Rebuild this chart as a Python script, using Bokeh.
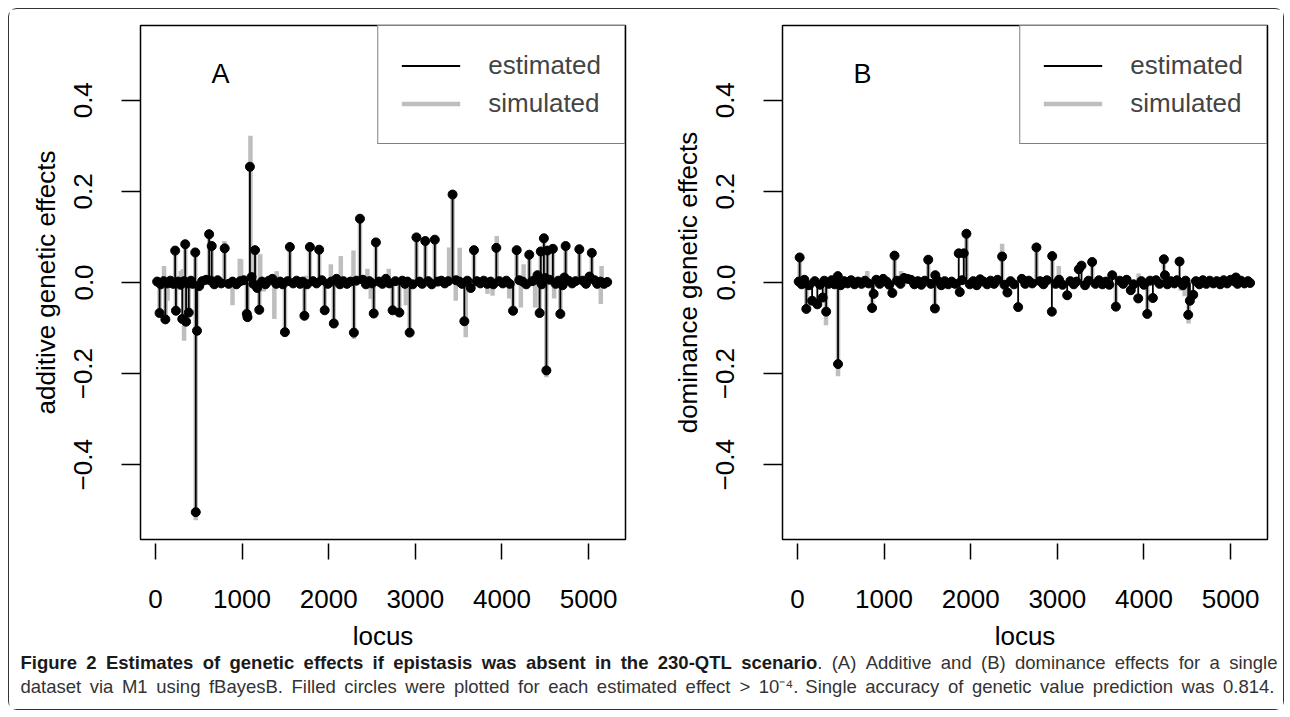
from bokeh.plotting import figure
from bokeh.models import ColumnDataSource, Range1d, FixedTicker, Legend, LegendItem, Label
from bokeh.layouts import column, row
from bokeh.embed import file_html
from bokeh.resources import INLINE
from bokeh.core.properties import value

# ---------------- data ----------------
# Panel A: additive effects, estimated (filled circles) and simulated (grey)
A_est_locus = [20, 48, 62, 95, 115, 140, 172, 205, 228, 237, 262, 290, 310, 330, 344, 354, 368, 385,
               410, 430, 460, 466, 480, 505, 540, 585, 620, 640, 650, 680, 718, 760, 800, 845, 890,
               935, 980, 1020, 1055, 1063, 1091, 1110, 1130, 1150, 1175, 1199, 1230, 1270, 1310,
               1350, 1395, 1440, 1470, 1495, 1525, 1552, 1590, 1630, 1670, 1700, 1720, 1750, 1783,
               1820, 1860, 1890, 1920, 1954, 1990, 2030, 2059, 2090, 2130, 2170, 2210, 2250, 2291,
               2320, 2361, 2395, 2430, 2470, 2500, 2520, 2545, 2580, 2620, 2660, 2700, 2738, 2770,
               2816, 2850, 2880, 2910, 2935, 2970, 3013, 3050, 3080, 3115, 3150, 3190, 3225, 3260,
               3300, 3340, 3380, 3430, 3470, 3510, 3540, 3566, 3600, 3640, 3677, 3710, 3750, 3790,
               3830, 3870, 3900, 3935, 3970, 4010, 4050, 4090, 4128, 4170, 4200, 4240, 4280, 4315,
               4350, 4390, 4410, 4435, 4448, 4460, 4484, 4500, 4513, 4525, 4550, 4588, 4620, 4650,
               4674, 4700, 4720, 4735, 4770, 4810, 4850, 4893, 4930, 4970, 5010, 5037, 5070, 5100,
               5140, 5180, 5215]
A_est_value = [0.002, -0.067, -0.004, 0.003, -0.081, -0.002, 0.004, -0.003, 0.070, -0.062, 0.002,
               -0.005, -0.080, 0.003, 0.084, -0.086, -0.002, -0.066, 0.004, -0.003, 0.066, -0.504,
               -0.106, -0.008, 0.003, 0.006, 0.106, 0.004, 0.080, -0.004, 0.005, -0.002, 0.075,
               -0.003, 0.002, -0.004, 0.003, 0.005, -0.069, -0.076, 0.254, 0.012, -0.003, 0.071,
               -0.012, -0.060, 0.002, -0.004, 0.004, 0.008, -0.003, 0.002, -0.004, -0.109, 0.003,
               0.078, -0.002, 0.004, -0.003, 0.002, -0.073, -0.004, 0.078, 0.003, -0.002, 0.072,
               0.005, -0.061, -0.003, 0.002, -0.090, 0.008, -0.004, 0.003, -0.003, 0.002, -0.110,
               0.004, 0.140, 0.006, -0.004, 0.003, -0.002, -0.068, 0.088, 0.002, -0.003, 0.008,
               -0.002, -0.061, 0.003, -0.066, 0.004, -0.003, 0.002, -0.110, -0.004, 0.099, 0.002,
               -0.003, 0.091, 0.003, -0.004, 0.094, 0.002, 0.004, -0.002, 0.003, 0.193, 0.005,
               0.002, -0.003, -0.085, 0.004, -0.012, 0.071, 0.003, -0.002, 0.004, -0.003, 0.002,
               -0.004, 0.076, 0.003, -0.002, 0.004, -0.003, -0.062, 0.071, 0.005, 0.002, -0.004,
               0.061, 0.003, 0.006, 0.016, -0.067, 0.068, -0.004, 0.097, 0.010, -0.193, 0.070,
               0.006, 0.074, -0.003, 0.004, -0.069, -0.006, 0.011, 0.080, 0.004, -0.002, 0.003,
               0.073, 0.004, -0.003, 0.013, 0.065, 0.005, -0.003, 0.002, -0.003, 0.001]
A_sim_locus = [48, 100, 118, 140, 228, 237, 293, 316, 331, 344, 354, 385, 460, 466, 480, 620, 650,
               797, 890, 974, 989, 1055, 1063, 1097, 1150, 1199, 1210, 1248, 1373, 1400, 1495, 1552,
               1720, 1739, 1783, 1890, 1954, 2025, 2059, 2140, 2286, 2291, 2361, 2447, 2486, 2520,
               2545, 2693, 2738, 2816, 2891, 2935, 3013, 3115, 3225, 3390, 3430, 3467, 3512, 3582,
               3677, 3833, 3891, 3940, 4083, 4128, 4170, 4218, 4250, 4315, 4383, 4435, 4448, 4484,
               4513, 4525, 4588, 4602, 4674, 4735, 4893, 5037, 5141, 5150]
A_sim_value = [-0.070, 0.036, -0.084, -0.040, 0.072, -0.065, 0.025, 0.029, -0.128, 0.086, -0.088,
               -0.070, 0.068, -0.522, -0.108, 0.108, 0.082, 0.091, -0.050, 0.052, 0.051, -0.072,
               -0.078, 0.322, 0.073, -0.062, 0.062, -0.020, -0.080, 0.025, -0.112, 0.080, -0.075,
               0.015, 0.080, 0.074, -0.063, 0.040, -0.092, 0.058, 0.070, -0.124, 0.142, 0.030,
               -0.036, -0.070, 0.090, 0.030, -0.063, -0.068, -0.050, -0.112, 0.100, 0.093, 0.096,
               0.077, 0.195, -0.040, 0.076, -0.120, 0.073, -0.025, -0.029, 0.102, -0.035, -0.064,
               0.073, -0.055, 0.040, 0.063, -0.055, -0.069, 0.070, 0.099, -0.208, 0.072, 0.076,
               -0.035, -0.071, 0.082, 0.075, 0.067, -0.047, 0.036]

# Panel B: dominance effects
B_est_locus = [15, 26, 50, 80, 103, 135, 170, 200, 230, 260, 292, 310, 332, 360, 395, 430, 466, 469,
               500, 540, 580, 620, 660, 700, 740, 780, 820, 862, 880, 910, 950, 990, 1030, 1060,
               1096, 1121, 1150, 1190, 1230, 1270, 1310, 1350, 1390, 1430, 1470, 1510, 1540, 1587,
               1592, 1620, 1660, 1700, 1740, 1780, 1820, 1862, 1874, 1900, 1920, 1951, 1990, 2030,
               2070, 2110, 2150, 2190, 2230, 2270, 2310, 2363, 2390, 2424, 2460, 2500, 2548, 2590,
               2630, 2670, 2710, 2759, 2800, 2840, 2880, 2937, 2941, 2980, 3020, 3060, 3114, 3150,
               3190, 3220, 3248, 3279, 3320, 3360, 3402, 3440, 3480, 3520, 3560, 3600, 3634, 3676,
               3720, 3760, 3800, 3848, 3880, 3934, 3970, 4000, 4038, 4070, 4103, 4140, 4180, 4230,
               4242, 4270, 4310, 4350, 4380, 4411, 4450, 4480, 4511, 4530, 4569, 4600, 4640, 4680,
               4720, 4760, 4800, 4840, 4880, 4920, 4960, 5000, 5040, 5061, 5080, 5120, 5160, 5200,
               5225]
B_est_value = [0.002, 0.055, -0.004, 0.006, -0.058, -0.006, -0.040, 0.003, -0.048, -0.005, -0.033,
               0.004, -0.064, -0.003, 0.005, -0.004, 0.014, -0.179, -0.006, 0.003, -0.002, 0.005,
               -0.004, 0.002, -0.003, 0.004, -0.002, -0.056, -0.025, 0.006, -0.003, 0.008, 0.002,
               -0.005, -0.023, 0.059, 0.004, -0.003, 0.010, 0.008, 0.006, -0.004, 0.003, -0.005,
               0.004, 0.050, -0.003, -0.057, 0.016, 0.004, -0.006, 0.003, -0.004, 0.002, -0.003,
               0.064, -0.021, 0.005, 0.064, 0.107, -0.004, 0.003, -0.006, 0.007, 0.002, -0.004,
               0.004, -0.003, 0.006, 0.057, -0.005, -0.022, 0.003, -0.004, -0.054, 0.008, -0.003,
               0.004, -0.002, 0.077, 0.003, -0.004, 0.005, -0.064, 0.058, -0.003, 0.006, -0.005,
               -0.028, 0.003, -0.004, 0.002, 0.029, 0.037, -0.006, 0.004, 0.045, -0.003, 0.005,
               -0.004, 0.002, -0.005, 0.016, -0.053, 0.004, -0.003, 0.006, -0.017, -0.004, -0.035,
               0.003, -0.005, -0.069, 0.004, -0.034, 0.005, -0.003, 0.051, 0.016, -0.004, 0.003,
               -0.002, 0.005, 0.046, -0.006, 0.004, -0.071, -0.040, -0.027, 0.003, -0.004, 0.005,
               -0.003, 0.004, -0.002, 0.003, -0.004, 0.005, -0.002, 0.006, 0.003, 0.011, -0.003,
               0.004, -0.002, 0.003, -0.001]
B_sim_locus = [26, 103, 330, 469, 807, 862, 1121, 1196, 1510, 1587, 1951, 2363, 2759, 2941, 3017,
               3402, 3676, 3938, 4038, 4230, 4425, 4470, 4515]
B_sim_value = [0.058, -0.060, -0.094, -0.206, 0.025, -0.058, 0.061, 0.025, 0.052, -0.059, 0.109,
               0.085, 0.079, 0.060, 0.036, 0.046, -0.055, 0.020, -0.071, 0.053, -0.018, -0.030,
               -0.090]

x_ticks = [0, 1000, 2000, 3000, 4000, 5000]
y_ticks = [-0.4, -0.2, 0.0, 0.2, 0.4]
y_tick_labels = ["\u22120.4", "\u22120.2", "0.0", "0.2", "0.4"]

caption_bold = "Figure 2 Estimates of genetic effects if epistasis was absent in the 230-QTL scenario"
caption_rest1 = "(A) Additive and (B) dominance effects for a single"
caption_line2 = ("dataset via M1 using fBayesB. Filled circles were plotted for each estimated effect "
                 "> 10\u207b\u2074. Single accuracy of genetic value prediction was 0.814.")

FONT = "Liberation Sans"
GREY = "#bebebe"

# Liberation Sans (Arial-metric) advance widths, per 1000 em, for justified caption layout
REG_W = dict(zip("abcdefghijklmnopqrstuvwxyz", [556, 556, 500, 556, 556, 278, 556, 556, 222, 222, 500,
                                                 222, 833, 556, 556, 556, 556, 333, 500, 278, 556, 500,
                                                 722, 500, 500, 500]))
REG_W.update({"A": 667, "B": 667, "F": 611, "M": 833, "S": 667, "(": 333, ")": 333, ".": 278,
              ">": 584, "-": 333, "\u207b": 333, "\u2074": 333})
REG_W.update({d: 556 for d in "0123456789"})
BOLD_W = dict(zip("abcdefghijklmnopqrstuvwxyz", [556, 611, 556, 611, 556, 333, 611, 611, 278, 278, 556,
                                                  278, 889, 611, 611, 611, 611, 389, 556, 333, 611, 556,
                                                  778, 556, 556, 500]))
BOLD_W.update({"E": 667, "F": 611, "Q": 778, "T": 611, "L": 611, "-": 333, ".": 278})
BOLD_W.update({d: 556 for d in "0123456789"})


def word_width(w, table, size):
    return sum(table.get(c, 556) for c in w) * size / 1000.0


def make_panel(letter, ylabel, est_locus, est_value, sim_locus, sim_value, width, right):
    p = figure(width=width, height=644, x_range=Range1d(-172, 5426), y_range=Range1d(-0.564, 0.564),
               output_backend="svg", toolbar_location=None,
               min_border_left=131, min_border_right=right, min_border_top=16, min_border_bottom=114)
    p.grid.visible = False
    p.outline_line_color = "black"
    p.outline_line_width = 1.5
    p.background_fill_color = "white"
    p.border_fill_color = "white"

    sim = ColumnDataSource(dict(x=sim_locus, v=sim_value))
    est = ColumnDataSource(dict(x=est_locus, v=est_value))
    r_sim = p.segment(x0="x", y0=0, x1="x", y1="v", source=sim, line_color=GREY, line_width=4.5)
    r_est = p.segment(x0="x", y0=0, x1="x", y1="v", source=est, line_color="black", line_width=1.8)
    p.scatter(x="x", y="v", source=est, marker="circle", size=9, fill_color="black", line_color="black")

    for ax in (p.xaxis[0], p.yaxis[0]):
        ax.axis_line_color = None
        ax.major_tick_line_color = "black"
        ax.major_tick_line_width = 1.5
        ax.minor_tick_line_color = None
        ax.major_label_text_font = FONT
        ax.major_label_text_font_size = "26px"
        ax.major_label_text_color = "black"
        ax.axis_label_text_font = FONT
        ax.axis_label_text_font_size = "26px"
        ax.axis_label_text_font_style = "normal"
        ax.axis_label_text_color = "black"

    p.xaxis.ticker = FixedTicker(ticks=x_ticks)
    p.xaxis.major_label_overrides = {t: str(t) for t in x_ticks}
    p.xaxis.major_tick_in = -4
    p.xaxis.major_tick_out = 20
    p.xaxis.major_label_standoff = 30
    p.xaxis.axis_label = "locus"
    p.xaxis.axis_label_standoff = 10

    p.yaxis.ticker = FixedTicker(ticks=y_ticks)
    p.yaxis.major_label_overrides = dict(zip(y_ticks, y_tick_labels))
    p.yaxis.major_label_orientation = "vertical"
    p.yaxis.major_tick_in = 0
    p.yaxis.major_tick_out = 19
    p.yaxis.major_label_standoff = 29
    p.yaxis.axis_label = ylabel
    p.yaxis.axis_label_standoff = 11

    legend = Legend(items=[LegendItem(label="estimated", renderers=[r_est]),
                           LegendItem(label="simulated", renderers=[r_sim])],
                    location="top_right", margin=0, padding=23, spacing=5,
                    glyph_width=59, glyph_height=33, label_height=33, label_standoff=28,
                    label_text_font=FONT, label_text_font_size="26px",
                    border_line_color="black", border_line_width=1.5,
                    background_fill_color="white", background_fill_alpha=1.0)
    p.add_layout(legend)

    p.add_layout(Label(x=750, y=0.458, text=letter, text_align="center", text_baseline="middle",
                       text_font=FONT, text_font_size="27px", text_color="black"))
    return p


pA = make_panel("A", "additive genetic effects", A_est_locus, A_est_value, A_sim_locus, A_sim_value, 642, 26)
pB = make_panel("B", "dominance genetic effects", B_est_locus, B_est_value, B_sim_locus, B_sim_value, 632, 16)

# ---- caption, justified word by word ----
CAP_SIZE = 18.5
cap = figure(width=1274, height=56, x_range=Range1d(0, 1274), y_range=Range1d(0, 56),
             min_border=0, toolbar_location=None, output_backend="svg",
             x_axis_type=None, y_axis_type=None)
cap.outline_line_color = None
cap.grid.visible = False


def justify(units, x0, x1):
    # units: list of (text, table, attach_to_previous)
    widths = [word_width(t, tb, CAP_SIZE) for t, tb, _ in units]
    ngaps = sum(1 for _, _, att in units[1:] if not att)
    gap = (x1 - x0 - sum(widths)) / ngaps
    xs, x = [], x0
    for i, (u, w) in enumerate(zip(units, widths)):
        if i > 0 and not u[2]:
            x += gap
        xs.append(x)
        x += w
    return xs


line1 = [(w, BOLD_W, False) for w in caption_bold.split()] + [(".", REG_W, True)] + \
        [(w, REG_W, False) for w in caption_rest1.split()]
xs1 = justify(line1, 11, 1268)
line2 = [(w, REG_W, False) for w in caption_line2.split()]
xs2 = justify(line2, 11, 1265)

nb = len(caption_bold.split())
cap.text(x=xs1[:nb], y=[47] * nb, text=[u[0] for u in line1[:nb]],
         text_font=value(FONT), text_font_style="bold", text_font_size=f"{CAP_SIZE}px",
         text_baseline="middle", text_color="#1a1a1a")
cap.text(x=xs1[nb:], y=[47] * (len(line1) - nb), text=[u[0] for u in line1[nb:]],
         text_font=value(FONT), text_font_size=f"{CAP_SIZE}px", text_baseline="middle",
         text_color="#333333")
cap.text(x=xs2, y=[23] * len(line2), text=[u[0] for u in line2],
         text_font=value(FONT), text_font_size=f"{CAP_SIZE}px", text_baseline="middle",
         text_color="#333333")

layout = column(row(pA, pB), cap,
                styles={"border": "1.5px solid #333333", "border-radius": "9px",
                        "background-color": "white", "margin": "8px"})

open("out.html", "w").write(file_html(layout, INLINE))
